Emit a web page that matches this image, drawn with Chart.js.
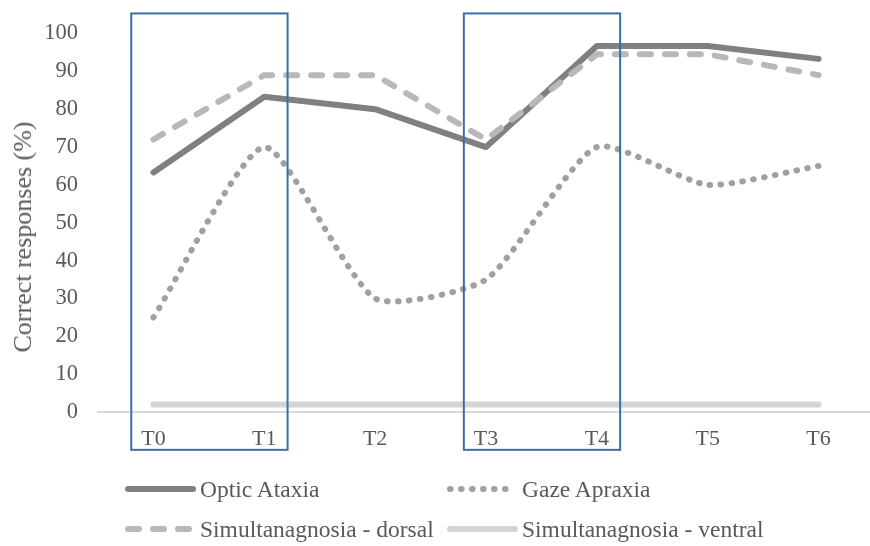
<!DOCTYPE html>
<html>
<head>
<meta charset="utf-8">
<script src="https://cdn.jsdelivr.net/npm/chart.js@4"></script>
<style>
  html, body { margin: 0; padding: 0; background: #fff; overflow: hidden; width: 870px; height: 546px; }
  #wrap { position: absolute; left: 0; top: 0; width: 874px; height: 546px; }
  #legend { position: absolute; left: 0; top: 0; font-family: "Liberation Serif", "Times New Roman", serif; font-size: 23.5px; color: #595959; }
  .item { position: absolute; display: flex; align-items: center; white-space: nowrap; height: 30px; }
  .item svg { margin-right: 4px; }
  #ytitle { position: absolute; left: 23px; top: 237px; transform: translate(-50%, -50%) rotate(-90deg); font-family: "Liberation Serif", "Times New Roman", serif; font-size: 26px; color: #595959; white-space: nowrap; }
</style>
</head>
<body>
<div id="wrap"><canvas id="c" width="874" height="546"></canvas></div>
<div id="ytitle"></div>
<div id="legend"></div>
<script>
const categories = ["T0", "T1", "T2", "T3", "T4", "T5", "T6"];
const opticAtaxia = [63.3, 83.3, 80, 70, 96.7, 96.7, 93.3];
const gazeApraxia = [25, 70, 30, 35, 70, 60, 65];
const simDorsal = [72, 89, 89, 72, 94.5, 94.5, 89];
const simVentral = [2, 2, 2, 2, 2, 2, 2];
const seriesNames = ["Optic Ataxia", "Gaze Apraxia", "Simultanagnosia - dorsal", "Simultanagnosia - ventral"];
const yTitle = "Correct responses (%)";
const yTicks = [0, 10, 20, 30, 40, 50, 60, 70, 80, 90, 100];
const highlightGroups = [[0, 1], [3, 4]];

const styles = [
  { color: "#808080", width: 6, dash: [], tension: 0 },
  { color: "#a0a0a0", width: 6, dash: [0.6, 10.4], tension: 0.2 },
  { color: "#b8b8b8", width: 6, dash: [11, 14], tension: 0 },
  { color: "#d4d4d4", width: 6, dash: [], tension: 0 }
];
const values = [opticAtaxia, gazeApraxia, simDorsal, simVentral];
const order = [3, 1, 2, 0];

const datasets = order.map(i => ({
  label: seriesNames[i],
  data: values[i],
  borderColor: styles[i].color,
  borderWidth: styles[i].width,
  borderDash: styles[i].dash,
  borderCapStyle: "round",
  borderJoinStyle: "round",
  tension: styles[i].tension,
  pointRadius: 0,
  fill: false
}));

const boxPlugin = {
  id: "boxes",
  afterDatasetsDraw(chart) {
    const ctx = chart.ctx, xs = chart.scales.x, ys = chart.scales.y;
    const step = xs.getPixelForValue(1) - xs.getPixelForValue(0);
    ctx.save();
    ctx.strokeStyle = "#3b6ea5";
    ctx.lineWidth = 2;
    highlightGroups.forEach(([a, b]) => {
      const x0 = xs.getPixelForValue(a) - step * 0.2;
      const x1 = xs.getPixelForValue(b) + step * 0.21;
      const y0 = ys.getPixelForValue(105.3);
      const y1 = ys.getPixelForValue(-10);
      ctx.strokeRect(x0, y0, x1 - x0, y1 - y0);
    });
    ctx.restore();
  }
};

const font = "'Liberation Serif', 'Times New Roman', serif";
const chart = new Chart(document.getElementById("c"), {
  type: "line",
  data: { labels: categories, datasets },
  options: {
    responsive: false,
    animation: false,
    layout: { padding: { top: 31, right: 0, left: 0, bottom: 0 } },
    plugins: { legend: { display: false }, tooltip: { enabled: false } },
    scales: {
      x: {
        offset: true,
        grid: { display: false, drawTicks: false },
        border: { display: true, color: "#d9d9d9", width: 2 },
        ticks: { color: "#595959", font: { family: font, size: 22 }, padding: 14, maxRotation: 0 },
        afterFit(s) { s.height = 134; }
      },
      y: {
        min: 0, max: 100,
        afterBuildTicks(s) { s.ticks = yTicks.map(v => ({ value: v })); },
        grid: { display: false, drawTicks: false },
        border: { display: false },
        ticks: { color: "#595959", font: { family: font, size: 22.5 }, padding: 20 },
        title: { display: false },
        afterFit(s) { s.width = 98; }
      }
    }
  },
  plugins: [boxPlugin]
});

document.getElementById("ytitle").textContent = yTitle;

// HTML legend
const legend = document.getElementById("legend");
const pos = [[125, 489], [447, 489], [125, 529], [447, 529]];
[0, 1, 2, 3].forEach(i => {
  const st = styles[i];
  const div = document.createElement("div");
  div.className = "item";
  div.style.left = pos[i][0] + "px";
  div.style.top = (pos[i][1] - 15) + "px";
  const w = 71;
  const dash = st.dash.length ? `stroke-dasharray="${st.dash.join(",")}"` : "";
  div.innerHTML = `<svg width="${w}" height="10"><line x1="${st.width/2}" y1="5" x2="${w - st.width/2}" y2="5" stroke="${st.color}" stroke-width="${st.width}" stroke-linecap="round" ${dash}/></svg><span>${seriesNames[i]}</span>`;
  legend.appendChild(div);
});
</script>
</body>
</html>
